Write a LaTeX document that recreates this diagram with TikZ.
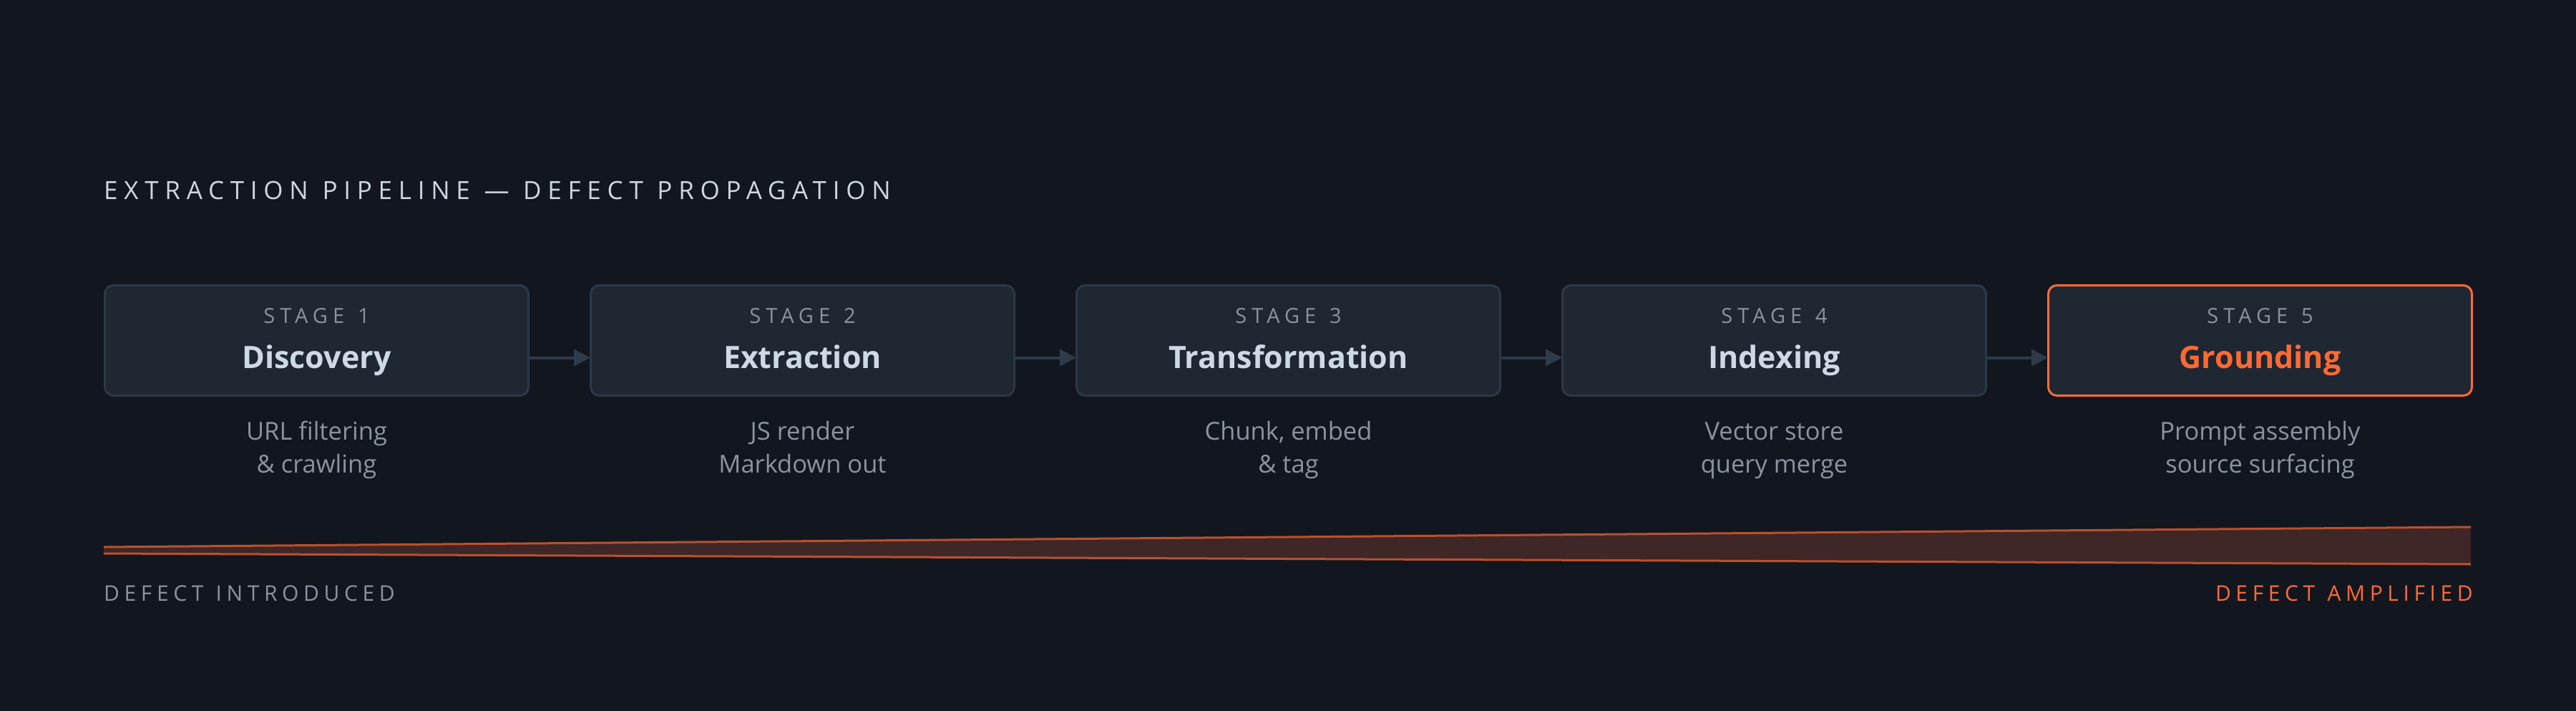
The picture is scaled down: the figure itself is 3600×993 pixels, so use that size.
\documentclass[tikz,border=0pt]{standalone}
\usepackage{fontspec}
\setmainfont{Open Sans}
\newfontfamily\trackfont[LetterSpace=24,WordSpace=1.3]{Open Sans}
\newfontfamily\bottomfont[LetterSpace=22,WordSpace=1.2]{Open Sans}
\newfontfamily\titlefont[LetterSpace=25,WordSpace=1.1]{Open Sans}
\usetikzlibrary{arrows.meta}
\definecolor{bgc}{HTML}{12171F}
\definecolor{boxfill}{HTML}{1F2733}
\definecolor{boxline}{HTML}{2C3846}
\definecolor{labelgray}{HTML}{8A939E}
\definecolor{namec}{HTML}{CDD9E5}
\definecolor{subgray}{HTML}{8B949E}
\definecolor{arrowc}{HTML}{2E3B49}
\definecolor{orangec}{HTML}{FF6A33}
\definecolor{wedgefill}{HTML}{3F2627}
\definecolor{wedgeline}{HTML}{B9512E}
\definecolor{titlec}{HTML}{CDD6E0}
\tikzset{
  stagebox/.style={draw=boxline, fill=boxfill, line width=3pt, rounded corners=12pt,
    minimum width=592pt, minimum height=154pt, inner sep=0pt, anchor=north west},
  hotbox/.style={stagebox, draw=orangec},
  stagelbl/.style={anchor=base, inner sep=0pt, text=labelgray, font=\trackfont\fontsize{29}{34}\selectfont},
  stagename/.style={anchor=base, inner sep=0pt, text=namec, font=\bfseries\fontsize{43}{50}\selectfont},
  subtxt/.style={anchor=base, inner sep=0pt, text=subgray, font=\fontsize{34.5}{40}\selectfont},
  flow/.style={draw=arrowc, line width=4pt, -{Triangle[length=23pt,width=23pt]}, shorten >=-1pt},
  edge/.style={draw=wedgeline, line width=3pt},
}
\begin{document}
\begin{tikzpicture}[x=1pt,y=-1pt]
\fill[bgc] (0,0) rectangle (3600,993);
\useasboundingbox (0,0) rectangle (3600,993);

\node[anchor=base west, inner sep=0pt, text=titlec, font=\titlefont\fontsize{35}{42}\selectfont] (title) at (145,278) {EXTRACTION PIPELINE — DEFECT PROPAGATION};

\node[stagebox] (b1) at (145,397) {};
\node[stagebox] (b2) at (824,397) {};
\node[stagebox] (b3) at (1503,397) {};
\node[stagebox] (b4) at (2182,397) {};
\node[hotbox] (b5) at (2861,397) {};

\foreach \i/\n in {1/1,2/2,3/3,4/4,5/5}{
  \node[stagelbl] (s\i) at ([yshift=-54pt]b\i.north) {STAGE \n};
}
\node[stagename] (n1) at ([yshift=-117pt]b1.north) {Discovery};
\node[stagename] (n2) at ([yshift=-117pt]b2.north) {Extraction};
\node[stagename] (n3) at ([yshift=-117pt]b3.north) {Transformation};
\node[stagename] (n4) at ([yshift=-117pt]b4.north) {Indexing};
\node[stagename, text=orangec] (n5) at ([yshift=-117pt]b5.north) {Grounding};

\node[subtxt] (d1a) at ([yshift=-60pt]b1.south) {URL filtering};
\node[subtxt] (d1b) at ([yshift=-106pt]b1.south) {\& crawling};
\node[subtxt] (d2a) at ([yshift=-60pt]b2.south) {JS render};
\node[subtxt] (d2b) at ([yshift=-106pt]b2.south) {Markdown out};
\node[subtxt] (d3a) at ([yshift=-60pt]b3.south) {Chunk, embed};
\node[subtxt] (d3b) at ([yshift=-106pt]b3.south) {\& tag};
\node[subtxt] (d4a) at ([yshift=-60pt]b4.south) {Vector store};
\node[subtxt] (d4b) at ([yshift=-106pt]b4.south) {query merge};
\node[subtxt] (d5a) at ([yshift=-60pt]b5.south) {Prompt assembly};
\node[subtxt] (d5b) at ([yshift=-106pt]b5.south) {source surfacing};

\foreach \a/\b in {1/2,2/3,3/4,4/5}{
  \draw[flow] ([yshift=-24pt]b\a.east) -- ([yshift=-24pt]b\b.west);
}

\coordinate (w1) at (145,764);
\coordinate (w2) at (3453,736);
\coordinate (w3) at (3453,788);
\coordinate (w4) at (145,773);
\fill[wedgefill] (w1) -- (w2) -- (w3) -- (w4) -- cycle;
\draw[edge] (w1) -- (w2);
\draw[edge] (w4) -- (w3);

\node[anchor=base west, inner sep=0pt, text=labelgray, font=\bottomfont\fontsize{30}{36}\selectfont] (intro) at (145,839) {DEFECT INTRODUCED};
\node[anchor=base east, inner sep=0pt, text=orangec, font=\bottomfont\fontsize{30}{36}\selectfont] (ampl) at (3456,839) {DEFECT AMPLIFIED};
\end{tikzpicture}
\end{document}
